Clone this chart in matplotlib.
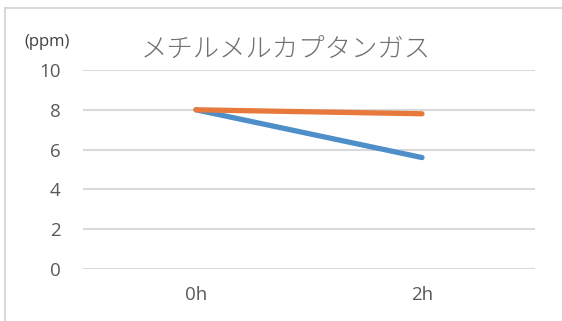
import matplotlib
matplotlib.use("Agg")
import matplotlib.pyplot as plt
from matplotlib.patches import Rectangle

categories = ["0h", "2h"]
series_blue = [8.0, 5.6]
series_orange = [8.0, 7.8]
y_ticks = [0, 2, 4, 6, 8, 10]
title = "メチルメルカプタンガス"
unit_label = "(ppm)"

plt.rcParams['font.family'] = ['Noto Sans CJK JP', 'DejaVu Sans']

fig = plt.figure(figsize=(5.62, 3.21), dpi=100)
ax = fig.add_axes([83/562, 1-269/321, (535-83)/562, (269-70)/321])

x = list(range(len(categories)))
ax.plot(x, series_blue, color="#4F8FC9", lw=3.8, solid_capstyle="round", zorder=3)
ax.plot(x, series_orange, color="#E8793D", lw=3.8, solid_capstyle="round", zorder=4)

ax.set_xlim(-0.5, len(categories) - 0.5)
ax.set_ylim(0, 10)
ax.set_yticks(y_ticks)
ax.set_yticklabels([str(v) for v in y_ticks], family=['Open Sans', 'DejaVu Sans'], fontsize=13.5, color="#595959")
ax.set_xticks(x)
ax.set_xticklabels(categories, family=['Open Sans', 'DejaVu Sans'], fontsize=13.5, color="#595959")
ax.tick_params(axis='y', length=0, pad=16)
ax.tick_params(axis='x', length=0, pad=12)
ax.grid(axis='y', color="#D9D9D9", lw=1.5)
ax.set_axisbelow(True)
for s in ax.spines.values():
    s.set_visible(False)

fig.text(286/562, 1-50/321, title, ha='center', va='center', fontsize=19, color="#707070",
         weight='light')
fig.text(47/562, 1-42/321, unit_label, ha='center', va='center', fontsize=12, color="#404040",
         family=['Open Sans', 'DejaVu Sans'])

fig.patches.append(Rectangle((4.5/562, -0.2), 1.5, 1.2 - 7.5/321, transform=fig.transFigure,
                             fill=False, edgecolor="#D9D9D9", lw=1.5))

fig.savefig("out.png", dpi=100)
